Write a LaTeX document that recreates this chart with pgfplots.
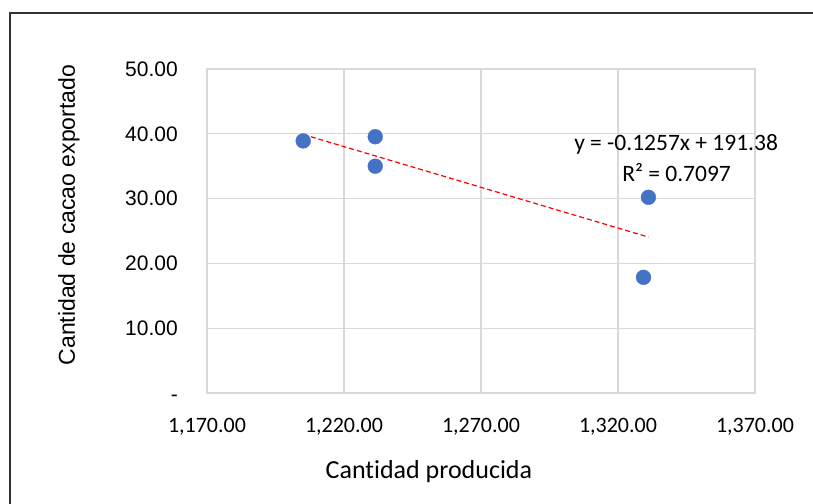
\documentclass[border=0pt]{standalone}
\usepackage{pgfplots}
\pgfplotsset{compat=1.18}
\usepackage{fontspec}
\setmainfont{Carlito}[Ligatures=NoCommon]
\newfontfamily\arialf{Liberation Sans}
\definecolor{ptblue}{HTML}{4472C4}
\definecolor{gridgray}{HTML}{D9D9D9}

\begin{document}
\begin{tikzpicture}
	\useasboundingbox (0,0) rectangle (813bp,504bp);
	\draw[line width=1.3bp, black!80] (10bp,-5bp) -- (10bp,491bp) -- (820bp,491bp);
	\begin{axis}[
		at={(207bp,111bp)}, anchor=south west,
		scale only axis, width=548bp, height=324bp,
		xmin=1170, xmax=1370, ymin=0, ymax=50,
		xtick={1170,1220,1270,1320,1370},
		xticklabels={{1,170.00},{1,220.00},{1,270.00},{1,320.00},{1,370.00}},
		ytick={0,10,20,30,40,50},
		yticklabels={{\smash{\raisebox{-9bp}{-}}\hspace{10bp}},10.00,20.00,30.00,40.00,50.00},
		xticklabel style={font=\fontsize{22bp}{26bp}\selectfont, anchor=base, yshift=-40bp},
		yticklabel style={font=\arialf\fontsize{21bp}{25bp}\selectfont, anchor=east, inner sep=0pt, xshift=-29bp},
		grid=major, grid style={gridgray, line width=1.3bp},
		axis line style={gridgray, line width=1.3bp},
		major tick style={draw=none},
		xlabel={Cantidad producida},
		ylabel={Cantidad de cacao exportado},
		xlabel style={font=\fontsize{26bp}{30bp}\selectfont, at={(axis description cs:0.405,-0.241)}, anchor=center},
		ylabel style={font=\arialf\fontsize{23bp}{27bp}\selectfont, at={(axis description cs:-0.252,0.549)}, anchor=center},
		clip=false,
	]
		% linear trend
		\addplot[red, line width=1.2bp, dash pattern=on 5bp off 3bp] coordinates {
			(1205.1,39.90) (1331.1,24.06)
		};
		\addplot[only marks, mark=*, color=ptblue, mark size=7.4bp] coordinates {
			(1205.1,38.90) (1231.4,39.55) (1231.4,35.00) (1331.1,30.20) (1329.3,17.85)
		};
		\node[font=\fontsize{23.5bp}{27bp}\selectfont, anchor=center] at (axis cs:1341.2,38.43) {y = -0.1257x + 191.38};
		\node[font=\fontsize{23.5bp}{27bp}\selectfont, anchor=center] at (axis cs:1341.4,34.1) {R² = 0.7097};
	\end{axis}
\end{tikzpicture}
\end{document}
